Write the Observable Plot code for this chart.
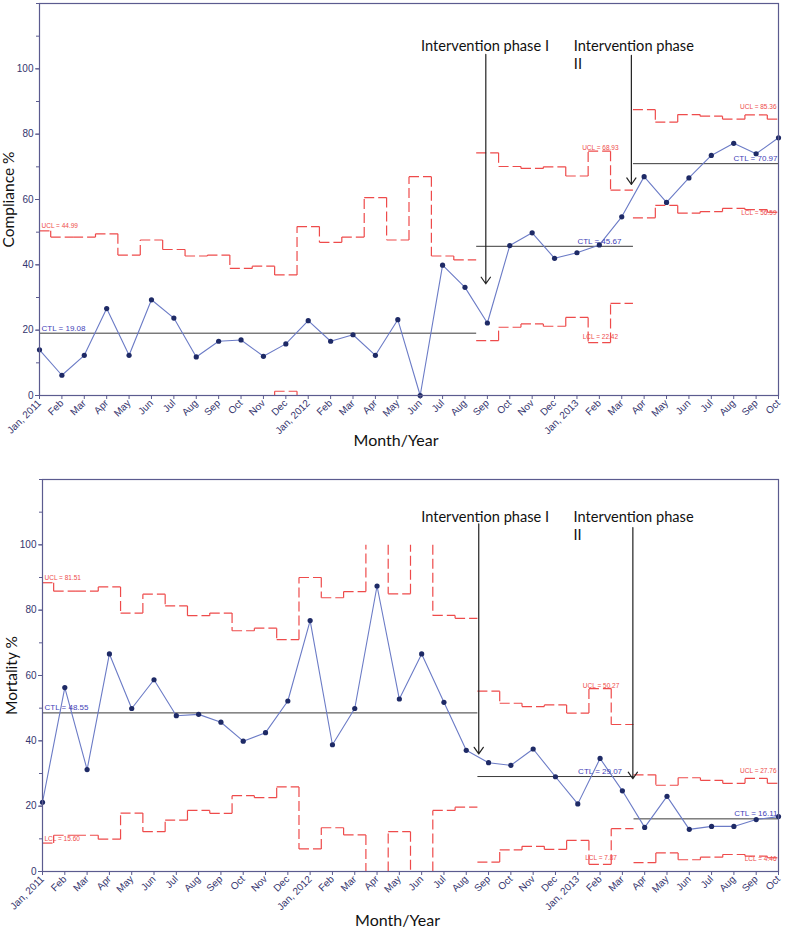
<!DOCTYPE html>
<html><head><meta charset="utf-8">
<script src="https://cdn.jsdelivr.net/npm/d3@7"></script>
<script src="https://cdn.jsdelivr.net/npm/@observablehq/plot@0.6"></script>
<style>
body{margin:0;background:#fff;}
#root{width:786px;}
#root svg{display:block;}
</style></head><body><div id="root"></div>
<script>
// ---------- data ----------
const months = ["Jan, 2011","Feb","Mar","Apr","May","Jun","Jul","Aug","Sep","Oct","Nov","Dec",
  "Jan, 2012","Feb","Mar","Apr","May","Jun","Jul","Aug","Sep","Oct","Nov","Dec",
  "Jan, 2013","Feb","Mar","Apr","May","Jun","Jul","Aug","Sep","Oct"];
const phases = [[0, 19], [20, 26], [27, 33]]; // month index ranges of the three phases

const complianceValues = [14.0, 6.2, 12.3, 26.6, 12.3, 29.3, 23.7, 11.8, 16.6, 17.0, 12.0, 15.8,
  22.9, 16.6, 18.6, 12.3, 23.2, 0, 39.9, 33.1, 22.2, 45.9, 49.8, 42.0,
  43.7, 46.1, 54.7, 67.0, 59.1, 66.6, 73.5, 77.2, 74.0, 78.9];
const complianceUCL = [50.4, 48.5, 48.5, 49.5, 43.0, 47.6, 44.7, 42.7, 43.0, 38.9, 39.6, 36.9,
  51.7, 46.9, 48.5, 60.6, 47.6, 67.0, 42.7, 41.5, 74.3, 70.1, 69.5, 70.0,
  67.2, 74.8, 62.9, 87.5, 83.7, 86.0, 85.5, 84.6, 85.9, 84.6];
const complianceLCL = [0, 0, 0, 0, 0, 0, 0, 0, 0, 0, 0, 1.3,
  0, 0, 0, 0, 0, 0, 0, 0, 16.8, 20.9, 21.9, 21.2,
  23.9, 16.2, 28.2, 54.4, 58.2, 55.8, 56.3, 57.3, 56.9, 56.1];
const complianceCTL = [19.08, 45.67, 70.97];
const complianceLimitText = [["UCL = 44.99", ""], ["UCL = 68.93", "LCL = 22.42"], ["UCL = 85.36", "LCL = 56.59"]];

const mortalityValues = [21.2, 56.3, 31.2, 66.6, 49.9, 58.7, 47.7, 48.1, 45.7, 39.9, 42.5, 52.2,
  76.8, 38.8, 49.9, 87.4, 52.8, 66.6, 51.8, 37.1, 33.3, 32.5, 37.5, 29.0,
  20.7, 34.6, 24.7, 13.5, 23.0, 12.9, 13.8, 13.8, 15.9, 16.8];
const mortalityUCL = [88.4, 85.8, 85.8, 87.1, 79.1, 84.9, 81.3, 78.3, 79.1, 73.7, 74.5, 71.0,
  90.0, 83.8, 85.7, 100, 85.0, 100, 78.4, 77.5, 55.2, 51.5, 50.5, 51.0,
  48.5, 56.0, 45.0, 29.6, 26.4, 28.7, 27.9, 27.0, 28.5, 27.0];
const mortalityLCL = [8.7, 11.1, 11.1, 9.9, 17.9, 12.2, 15.7, 18.7, 17.8, 23.2, 22.6, 25.9,
  6.9, 13.4, 11.2, 0, 12.2, 0, 18.7, 19.7, 2.9, 6.6, 7.7, 6.8,
  9.5, 2.2, 13.1, 2.7, 5.7, 3.6, 4.4, 5.2, 4.7, 4.2];
const mortalityCTL = [48.55, 29.07, 16.11];
const mortalityLimitText = [["UCL = 81.51", "LCL = 15.60"], ["UCL = 50.27", "LCL = 7.87"], ["UCL = 27.76", "LCL = 4.46"]];

const interventionText = ["Intervention phase I", "Intervention phase\nII"];
const yTicks = [0, 20, 40, 60, 80, 100];

// ---------- helpers ----------
const last = months.length - 1;
function stepSegments(vals) {
  const segs = [];
  for (const [a, b] of phases) {
    for (let i = a; i <= b; i++) {
      const v = vals[i];
      if (v > 0 && v < 100) segs.push({x1: Math.max(i - 0.5, 0), x2: Math.min(i + 0.5, last), y1: v, y2: v});
      if (i < b && vals[i + 1] !== v) segs.push({x1: i + 0.5, x2: i + 0.5, y1: v, y2: vals[i + 1]});
    }
  }
  return segs;
}

const RED = "#ee4b4b", AX = "#5b5b8f", TXT = "#35356e", LINE = "#6b7bc6", DOT = "#1e2a66", CTLC = "#3f3fb8";

function labelMarks(list, fill, fontSize) {
  return list.filter(d => d.t).map(d =>
    Plot.text([d], {x: "x", y: "y", text: "t", dx: d.dx, dy: d.dy, textAnchor: d.a, fill, fontSize}));
}

function chart(o) {
  const ctlSegs = phases.map(([a, b], k) => ({x1: Math.max(a - 0.5, 0), x2: Math.min(b + 0.5, last), y: o.ctl[k]}));
  const pts = o.values.map((v, i) => ({x: i, y: v}));
  // label placements (month index, value, pixel offsets)
  const ctlLabels = [
    {t: "CTL = " + o.ctl[0].toFixed(2), x: 0, y: o.ctl[0], dx: 2, dy: -5, a: "start"},
    {t: "CTL = " + o.ctl[1].toFixed(2), x: 25, y: o.ctl[1], dx: 0, dy: -5, a: "middle"},
    {t: "CTL = " + o.ctl[2].toFixed(2), x: last, y: o.ctl[2], dx: -1, dy: -5, a: "end"}
  ];
  const limLabels = [
    {t: o.limitText[0][0], x: 0, y: o.ucl[0], dx: 2, dy: -5, a: "start"},
    {t: o.limitText[0][1], x: 0, y: o.lcl[0], dx: 2, dy: -4, a: "start"},
    {t: o.limitText[1][0], x: 25, y: o.ucl[25], dx: 1, dy: -3, a: "middle"},
    {t: o.limitText[1][1], x: 25, y: o.lcl[25], dx: 1, dy: -6, a: "middle"},
    {t: o.limitText[2][0], x: last, y: o.ucl[last], dx: -2, dy: -12, a: "end"},
    {t: o.limitText[2][1], x: last, y: o.lcl[last], dx: -2, dy: 1, a: "end"}
  ];
  return Plot.plot({
    width: 786, height: o.height,
    marginLeft: o.ml, marginRight: 8, marginTop: o.mt, marginBottom: o.mb,
    style: {fontFamily: "'Liberation Sans', Arial, sans-serif", fontSize: "10px", background: "#fff"},
    x: {domain: [0, last], axis: null},
    y: {domain: [0, 120], axis: null},
    marks: [
      Plot.link(stepSegments(o.ucl), {x1: "x1", x2: "x2", y1: "y1", y2: "y2", stroke: RED, strokeWidth: 1.2, strokeDasharray: "10,4"}),
      Plot.link(stepSegments(o.lcl), {x1: "x1", x2: "x2", y1: "y1", y2: "y2", stroke: RED, strokeWidth: 1.2, strokeDasharray: "10,4"}),
      Plot.link(ctlSegs, {x1: "x1", x2: "x2", y1: "y", y2: "y", stroke: "#3a3a3a", strokeWidth: 1}),
      Plot.line(pts, {x: "x", y: "y", stroke: LINE, strokeWidth: 1.1}),
      Plot.dot(pts, {x: "x", y: "y", r: 2.6, fill: DOT, stroke: "none"}),
      ...labelMarks(limLabels, RED, 6.5),
      ...labelMarks(ctlLabels, CTLC, 8),
      Plot.arrow(o.arrows, {x1: "x", x2: "x", y1: "y1", y2: "y2", stroke: "#222", strokeWidth: 1.2, headLength: 10, headAngle: 70}),
      Plot.text(o.notes, {x: "x", y: "y", text: "t", textAnchor: "start", lineAnchor: "top", lineHeight: 1.27, fontSize: 14.6, fontFamily: "Lato, 'Open Sans', sans-serif", fill: "#111"}),
      Plot.frame({stroke: AX, strokeWidth: 1.2}),
      Plot.axisY({ticks: d3.range(0, 121, 10), tickSize: 3, tickFormat: () => "", stroke: AX, label: null}),
      Plot.axisY({ticks: yTicks, tickSize: 4, tickPadding: 2, stroke: AX, fill: TXT, label: null}),
      Plot.axisX({ticks: d3.range(months.length), tickSize: 4, tickRotate: -45, tickPadding: 2, tickFormat: i => months[i], stroke: AX, fill: TXT, label: null}),
      Plot.text([o.yLabel], {frameAnchor: "left", dx: -30, rotate: -90, textAnchor: "middle", lineAnchor: "middle", fontSize: 15.5, fontFamily: "Lato, sans-serif", fill: "#111"}),
      Plot.text(["Month/Year"], {frameAnchor: "bottom", dx: -13, dy: o.xLabelDy, textAnchor: "middle", lineAnchor: "middle", fontSize: 16, fontFamily: "Lato, sans-serif", fill: "#111"})
    ]
  });
}

const root = document.getElementById("root");
root.append(chart({
  values: complianceValues, ucl: complianceUCL, lcl: complianceLCL, ctl: complianceCTL,
  limitText: complianceLimitText, yLabel: "Compliance %",
  height: 465, ml: 39, mt: 3, mb: 70, xLabelDy: 45,
  arrows: [{x: 19.93, y1: 104.4, y2: 34.2}, {x: 26.43, y1: 104.1, y2: 64.6}],
  notes: [{t: interventionText[0], x: 17.04, y: 109.6}, {t: interventionText[1], x: 23.86, y: 109.6}]
}));
root.append(chart({
  values: mortalityValues, ucl: mortalityUCL, lcl: mortalityLCL, ctl: mortalityCTL,
  limitText: mortalityLimitText, yLabel: "Mortality %",
  height: 467, ml: 42, mt: 14, mb: 61, xLabelDy: 49,
  arrows: [{x: 19.56, y1: 106.4, y2: 36.0}, {x: 26.47, y1: 105.3, y2: 28.4}],
  notes: [{t: interventionText[0], x: 16.98, y: 111.1}, {t: interventionText[1], x: 23.81, y: 111.1}]
}));
</script></body></html>
